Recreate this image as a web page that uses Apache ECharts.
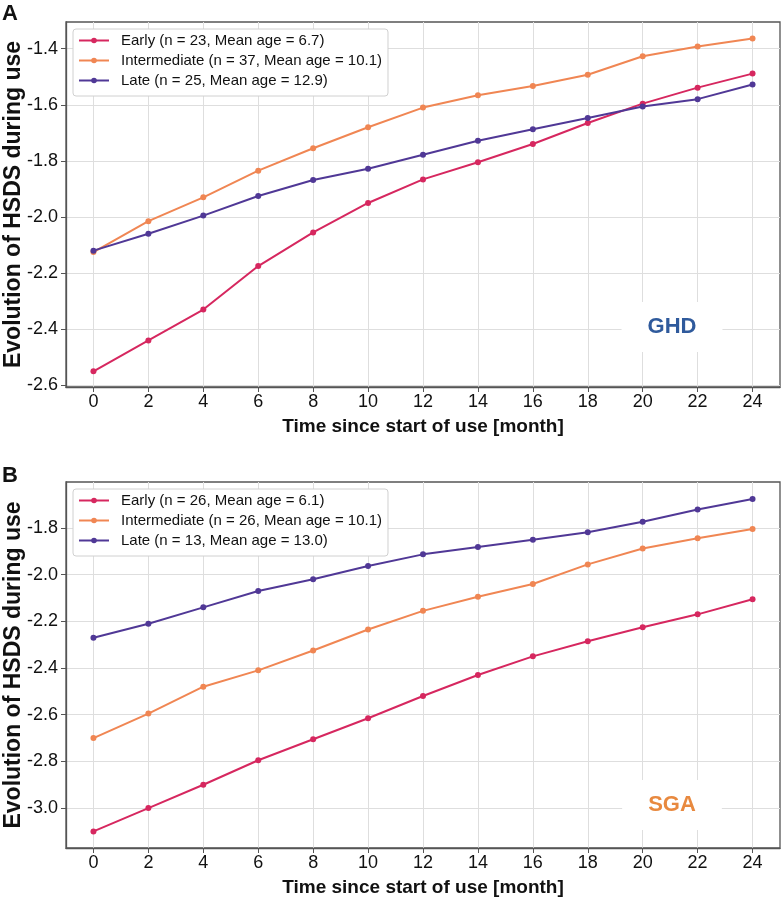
<!DOCTYPE html>
<html>
<head>
<meta charset="utf-8">
<script src="https://cdn.jsdelivr.net/npm/echarts@6/dist/echarts.min.js"></script>
<style>
html, body { margin: 0; padding: 0; background: #fff; }
#chart { width: 781px; height: 900px; }
</style>
</head>
<body>
<div id="chart"></div>
<script>
// 月份与刻度
var months = [0, 2, 4, 6, 8, 10, 12, 14, 16, 18, 20, 22, 24];
var ghd_ticks = [-2.6, -2.4, -2.2, -2.0, -1.8, -1.6, -1.4];
var sga_ticks = [-3.0, -2.8, -2.6, -2.4, -2.2, -2.0, -1.8];

// A: GHD
var ghd_names = ["Early (n = 23, Mean age = 6.7)", "Intermediate (n = 37, Mean age = 10.1)", "Late (n = 25, Mean age = 12.9)"];
var ghd_early = [-2.55, -2.44, -2.33, -2.175, -2.055, -1.95, -1.866, -1.805, -1.74, -1.665, -1.596, -1.539, -1.489];
var ghd_intermediate = [-2.125, -2.015, -1.93, -1.835, -1.755, -1.68, -1.61, -1.566, -1.533, -1.493, -1.427, -1.392, -1.364];
var ghd_late = [-2.12, -2.06, -1.995, -1.925, -1.868, -1.828, -1.778, -1.728, -1.687, -1.647, -1.606, -1.58, -1.528];

// B: SGA
var sga_names = ["Early (n = 26, Mean age = 6.1)", "Intermediate (n = 26, Mean age = 10.1)", "Late (n = 13, Mean age = 13.0)"];
var sga_early = [-3.10, -3.00, -2.90, -2.795, -2.705, -2.615, -2.52, -2.43, -2.35, -2.285, -2.225, -2.17, -2.105];
var sga_intermediate = [-2.70, -2.595, -2.48, -2.41, -2.325, -2.235, -2.155, -2.095, -2.04, -1.956, -1.888, -1.844, -1.804];
var sga_late = [-2.27, -2.21, -2.14, -2.07, -2.02, -1.963, -1.913, -1.881, -1.85, -1.818, -1.773, -1.721, -1.676];

var line_colors = ["#d6275f", "#f08653", "#503896"];
var font_family = "Liberation Sans, Arial, Helvetica, sans-serif";

function to_pairs(values) {
	var out = [];
	for (var i = 0; i < months.length; i++) {
		out.push([months[i], values[i]]);
	}
	return out;
}

function make_x_axis(grid_index) {
	return {
		type: "value",
		gridIndex: grid_index,
		min: -1,
		max: 25,
		name: "Time since start of use [month]",
		nameLocation: "middle",
		nameGap: 30,
		nameMoveOverlap: false,
		nameTextStyle: { fontFamily: font_family, fontSize: 19, fontWeight: "bold", color: "#111" },
		axisLine: { show: true, onZero: false, lineStyle: { color: "#555", width: 1.3 } },
		axisTick: { show: true, length: 5, customValues: months, lineStyle: { color: "#555" } },
		axisLabel: { customValues: months, margin: 6, fontFamily: font_family, fontSize: 18, color: "#111" },
		splitLine: { show: true, lineStyle: { color: "#dedede", width: 1 } }
	};
}

function make_y_axis(grid_index, min, max, ticks) {
	return {
		type: "value",
		gridIndex: grid_index,
		min: min,
		max: max,
		name: "Evolution of HSDS during use",
		nameLocation: "middle",
		nameGap: 41,
		nameMoveOverlap: false,
		nameTextStyle: { fontFamily: font_family, fontSize: 23, fontWeight: "bold", color: "#111" },
		axisLine: { show: true, onZero: false, lineStyle: { color: "#555", width: 1.3 } },
		axisTick: { show: true, length: 5, customValues: ticks, lineStyle: { color: "#555" } },
		axisLabel: {
			customValues: ticks,
			margin: 8,
			fontFamily: font_family,
			fontSize: 18,
			color: "#111",
			formatter: function (v) { return v.toFixed(1); }
		},
		splitLine: { show: true, lineStyle: { color: "#dedede", width: 1 } }
	};
}

function make_series(name, values, color, axis_index) {
	return {
		type: "line",
		name: name,
		xAxisIndex: axis_index,
		yAxisIndex: axis_index,
		data: to_pairs(values),
		symbol: "circle",
		symbolSize: 6,
		lineStyle: { color: color, width: 2 },
		itemStyle: { color: color },
		z: 3
	};
}

function make_legend(names, top) {
	return {
		data: names,
		orient: "vertical",
		left: 73,
		top: top,
		itemWidth: 30,
		itemHeight: 7,
		itemGap: 5,
		padding: [4, 6, 8, 5],
		backgroundColor: "#fff",
		borderColor: "#d0d0d0",
		borderWidth: 1,
		borderRadius: 3,
		textStyle: { fontFamily: font_family, fontSize: 15, color: "#111", padding: [0, 0, 0, 7] }
	};
}

var chart = echarts.init(document.getElementById("chart"), null, { renderer: "canvas" });
var option = {
	backgroundColor: "#fff",
	animation: false,
	grid: [
		{ left: 66, top: 22, width: 714, height: 365, show: true, borderColor: "#555", borderWidth: 1.3, backgroundColor: "#fff", outerBoundsMode: "none", containLabel: false },
		{ left: 66, top: 482, width: 714, height: 366, show: true, borderColor: "#555", borderWidth: 1.3, backgroundColor: "#fff", outerBoundsMode: "none", containLabel: false }
	],
	xAxis: [make_x_axis(0), make_x_axis(1)],
	yAxis: [make_y_axis(0, -2.606, -1.305, ghd_ticks), make_y_axis(1, -3.171, -1.603, sga_ticks)],
	legend: [make_legend(ghd_names, 29), make_legend(sga_names, 489)],
	series: [
		make_series(ghd_names[0], ghd_early, line_colors[0], 0),
		make_series(ghd_names[1], ghd_intermediate, line_colors[1], 0),
		make_series(ghd_names[2], ghd_late, line_colors[2], 0),
		make_series(sga_names[0], sga_early, line_colors[0], 1),
		make_series(sga_names[1], sga_intermediate, line_colors[1], 1),
		make_series(sga_names[2], sga_late, line_colors[2], 1)
	],
	graphic: [
		{ type: "text", left: 2, top: 3, style: { text: "A", font: "bold 22px " + font_family, fill: "#111" } },
		{ type: "text", left: 2, top: 465, style: { text: "B", font: "bold 22px " + font_family, fill: "#111" } },
		{
			type: "text", x: 672, y: 327, z: 10,
			style: {
				text: "GHD", font: "bold 22px " + font_family, fill: "#2f5a9c",
				align: "center", verticalAlign: "middle",
				backgroundColor: "#fff", padding: [14, 26]
			}
		},
		{
			type: "text", x: 672, y: 805, z: 10,
			style: {
				text: "SGA", font: "bold 22px " + font_family, fill: "#e8893f",
				align: "center", verticalAlign: "middle",
				backgroundColor: "#fff", padding: [14, 26]
			}
		}
	]
};
chart.setOption(option);
</script>
</body>
</html>
